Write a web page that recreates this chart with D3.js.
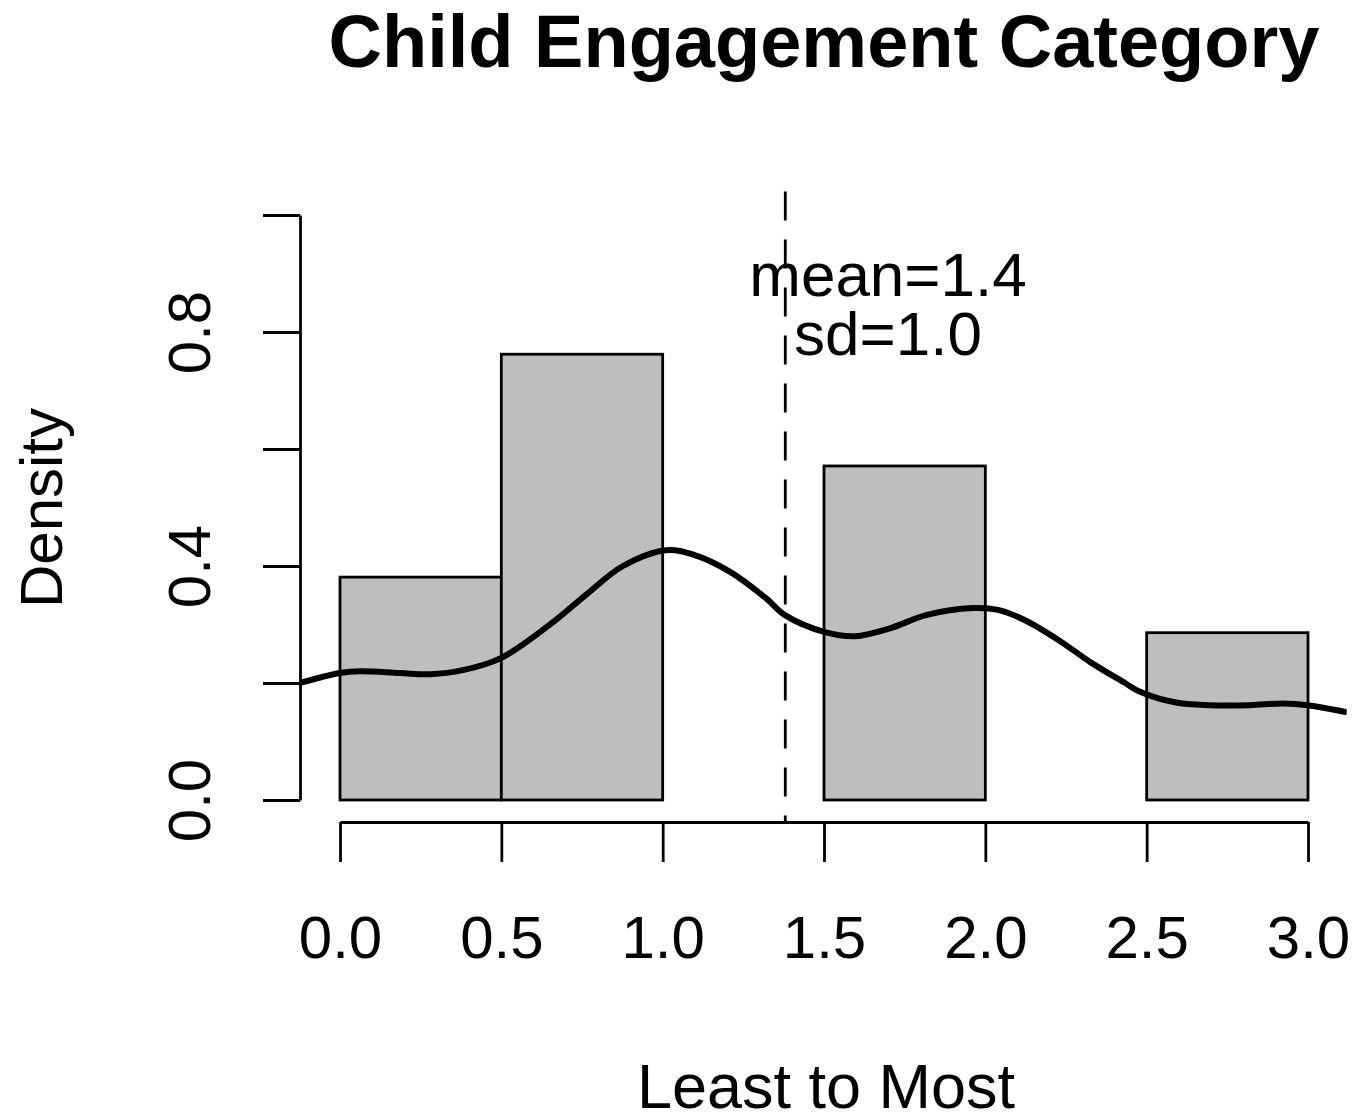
<!DOCTYPE html>
<html>
<head>
<meta charset="utf-8">
<script src="https://cdn.jsdelivr.net/npm/d3@7"></script>
<style>
    body { margin: 0; background: white; }
    svg { display: block; font-family: "Liberation Sans", Arial, sans-serif; }
</style>
</head>
<body>
<section></section>
<script>
//Histogram bins (left edge, right edge) and their densities
const binStarts = [0.0, 0.5, 1.0, 1.5, 2.0, 2.5];
const binEnds = [0.5, 1.0, 1.5, 2.0, 2.5, 3.0];
const binDensity = [0.381, 0.762, 0, 0.571, 0, 0.286];

//Density curve
const curveX = [-0.124, 0.0, 0.062, 0.186, 0.279, 0.381, 0.5, 0.653, 0.765, 0.877, 1.01, 1.097, 1.209, 1.32, 1.379, 1.503, 1.596, 1.707, 1.816, 1.962, 2.039, 2.12, 2.225, 2.33, 2.433, 2.476, 2.587, 2.693, 2.82, 2.922, 3.0, 3.121];
const curveY = [0.200, 0.217, 0.220, 0.217, 0.215, 0.222, 0.243, 0.301, 0.352, 0.400, 0.427, 0.419, 0.390, 0.345, 0.316, 0.287, 0.280, 0.294, 0.316, 0.328, 0.325, 0.308, 0.274, 0.234, 0.200, 0.186, 0.167, 0.162, 0.162, 0.165, 0.162, 0.150];

//Axis ticks
const xTicks = [0.0, 0.5, 1.0, 1.5, 2.0, 2.5, 3.0];
const yTicks = [0.0, 0.2, 0.4, 0.6, 0.8, 1.0];
const yTickLabels = ["0.0", "", "0.4", "", "0.8", ""];

//Mean and sd shown on the plot
const meanValue = 1.38;
const statLabels = ["mean=1.4", "sd=1.0"];

let width = 1367;
let height = 1114;

let svg = d3
    .select("section")
    .append("svg")
    .attr("width", width)
    .attr("height", height);

//Scales
const x = d3.scaleLinear().domain([0, 3]).range([340, 1308]);
const y = d3.scaleLinear().domain([0, 1]).range([800, 215]);

//Plot region is the axis range stretched by 4%
const plotLeft = x(-0.12);
const plotRight = x(3.12);
const plotTop = y(1.04);
const plotBottom = y(-0.04);

svg.append("clipPath")
    .attr("id", "plotclip")
    .append("rect")
    .attr("x", plotLeft)
    .attr("y", plotTop)
    .attr("width", plotRight - plotLeft)
    .attr("height", plotBottom - plotTop);

//Bars
svg.selectAll("rect.bar")
    .data(binDensity)
    .enter()
    .append("rect")
    .attr("class", "bar")
    .attr("x", (d, i) => x(binStarts[i]))
    .attr("y", d => y(d))
    .attr("width", (d, i) => x(binEnds[i]) - x(binStarts[i]))
    .attr("height", d => y(0) - y(d))
    .attr("fill", "#bebebe")
    .attr("stroke", "black")
    .attr("stroke-width", 2.8);

//Density line
const curve = curveX.map((v, i) => [v, curveY[i]]);
const line = d3.line()
    .x(d => x(d[0]))
    .y(d => y(d[1]))
    .curve(d3.curveCatmullRom.alpha(0.5));

svg.append("path")
    .datum(curve)
    .attr("d", line)
    .attr("fill", "none")
    .attr("stroke", "black")
    .attr("stroke-width", 6)
    .attr("clip-path", "url(#plotclip)");

//Dashed mean line
svg.append("line")
    .attr("x1", x(meanValue))
    .attr("x2", x(meanValue))
    .attr("y1", plotTop)
    .attr("y2", plotBottom)
    .attr("stroke", "black")
    .attr("stroke-width", 2.8)
    .attr("stroke-dasharray", "29,19");

//Mean and sd text
svg.selectAll("text.stat")
    .data(statLabels)
    .enter()
    .append("text")
    .attr("class", "stat")
    .attr("x", 888)
    .attr("y", (d, i) => 296 + i * 59)
    .attr("text-anchor", "middle")
    .attr("font-size", "62px")
    .text(d => d);

//Y axis
const yAxis = d3.axisLeft(y)
    .tickValues(yTicks)
    .tickFormat((d, i) => yTickLabels[i])
    .tickSize(37)
    .tickSizeOuter(0);

const gy = svg.append("g")
    .attr("transform", `translate(300,0)`)
    .call(yAxis);

gy.select(".domain").attr("stroke-width", 2.8);
gy.selectAll(".tick line").attr("stroke-width", 2.8);
gy.selectAll(".tick text")
    .attr("font-size", "60px")
    .attr("font-family", "Liberation Sans, Arial, sans-serif")
    .attr("text-anchor", "middle")
    .attr("x", null)
    .attr("dy", null)
    .attr("transform", "translate(-90,0) rotate(-90)");

//X axis
const xAxis = d3.axisBottom(x)
    .tickValues(xTicks)
    .tickFormat(d3.format(".1f"))
    .tickSize(40)
    .tickSizeOuter(0);

const gx = svg.append("g")
    .attr("transform", `translate(0,822)`)
    .call(xAxis);

gx.select(".domain").attr("stroke-width", 2.8);
gx.selectAll(".tick line").attr("stroke-width", 2.8);
gx.selectAll(".tick text")
    .attr("font-size", "60px")
    .attr("font-family", "Liberation Sans, Arial, sans-serif")
    .attr("y", 136)
    .attr("dy", null);

//Title and axis labels
svg.append("text")
    .attr("x", 824)
    .attr("y", 67)
    .attr("text-anchor", "middle")
    .attr("font-size", "74px")
    .attr("font-weight", "bold")
    .text("Child Engagement Category");

svg.append("text")
    .attr("x", 826)
    .attr("y", 1108)
    .attr("text-anchor", "middle")
    .attr("font-size", "63px")
    .text("Least to Most");

svg.append("text")
    .attr("transform", "translate(62,508) rotate(-90)")
    .attr("text-anchor", "middle")
    .attr("font-size", "60px")
    .text("Density");
</script>
</body>
</html>
